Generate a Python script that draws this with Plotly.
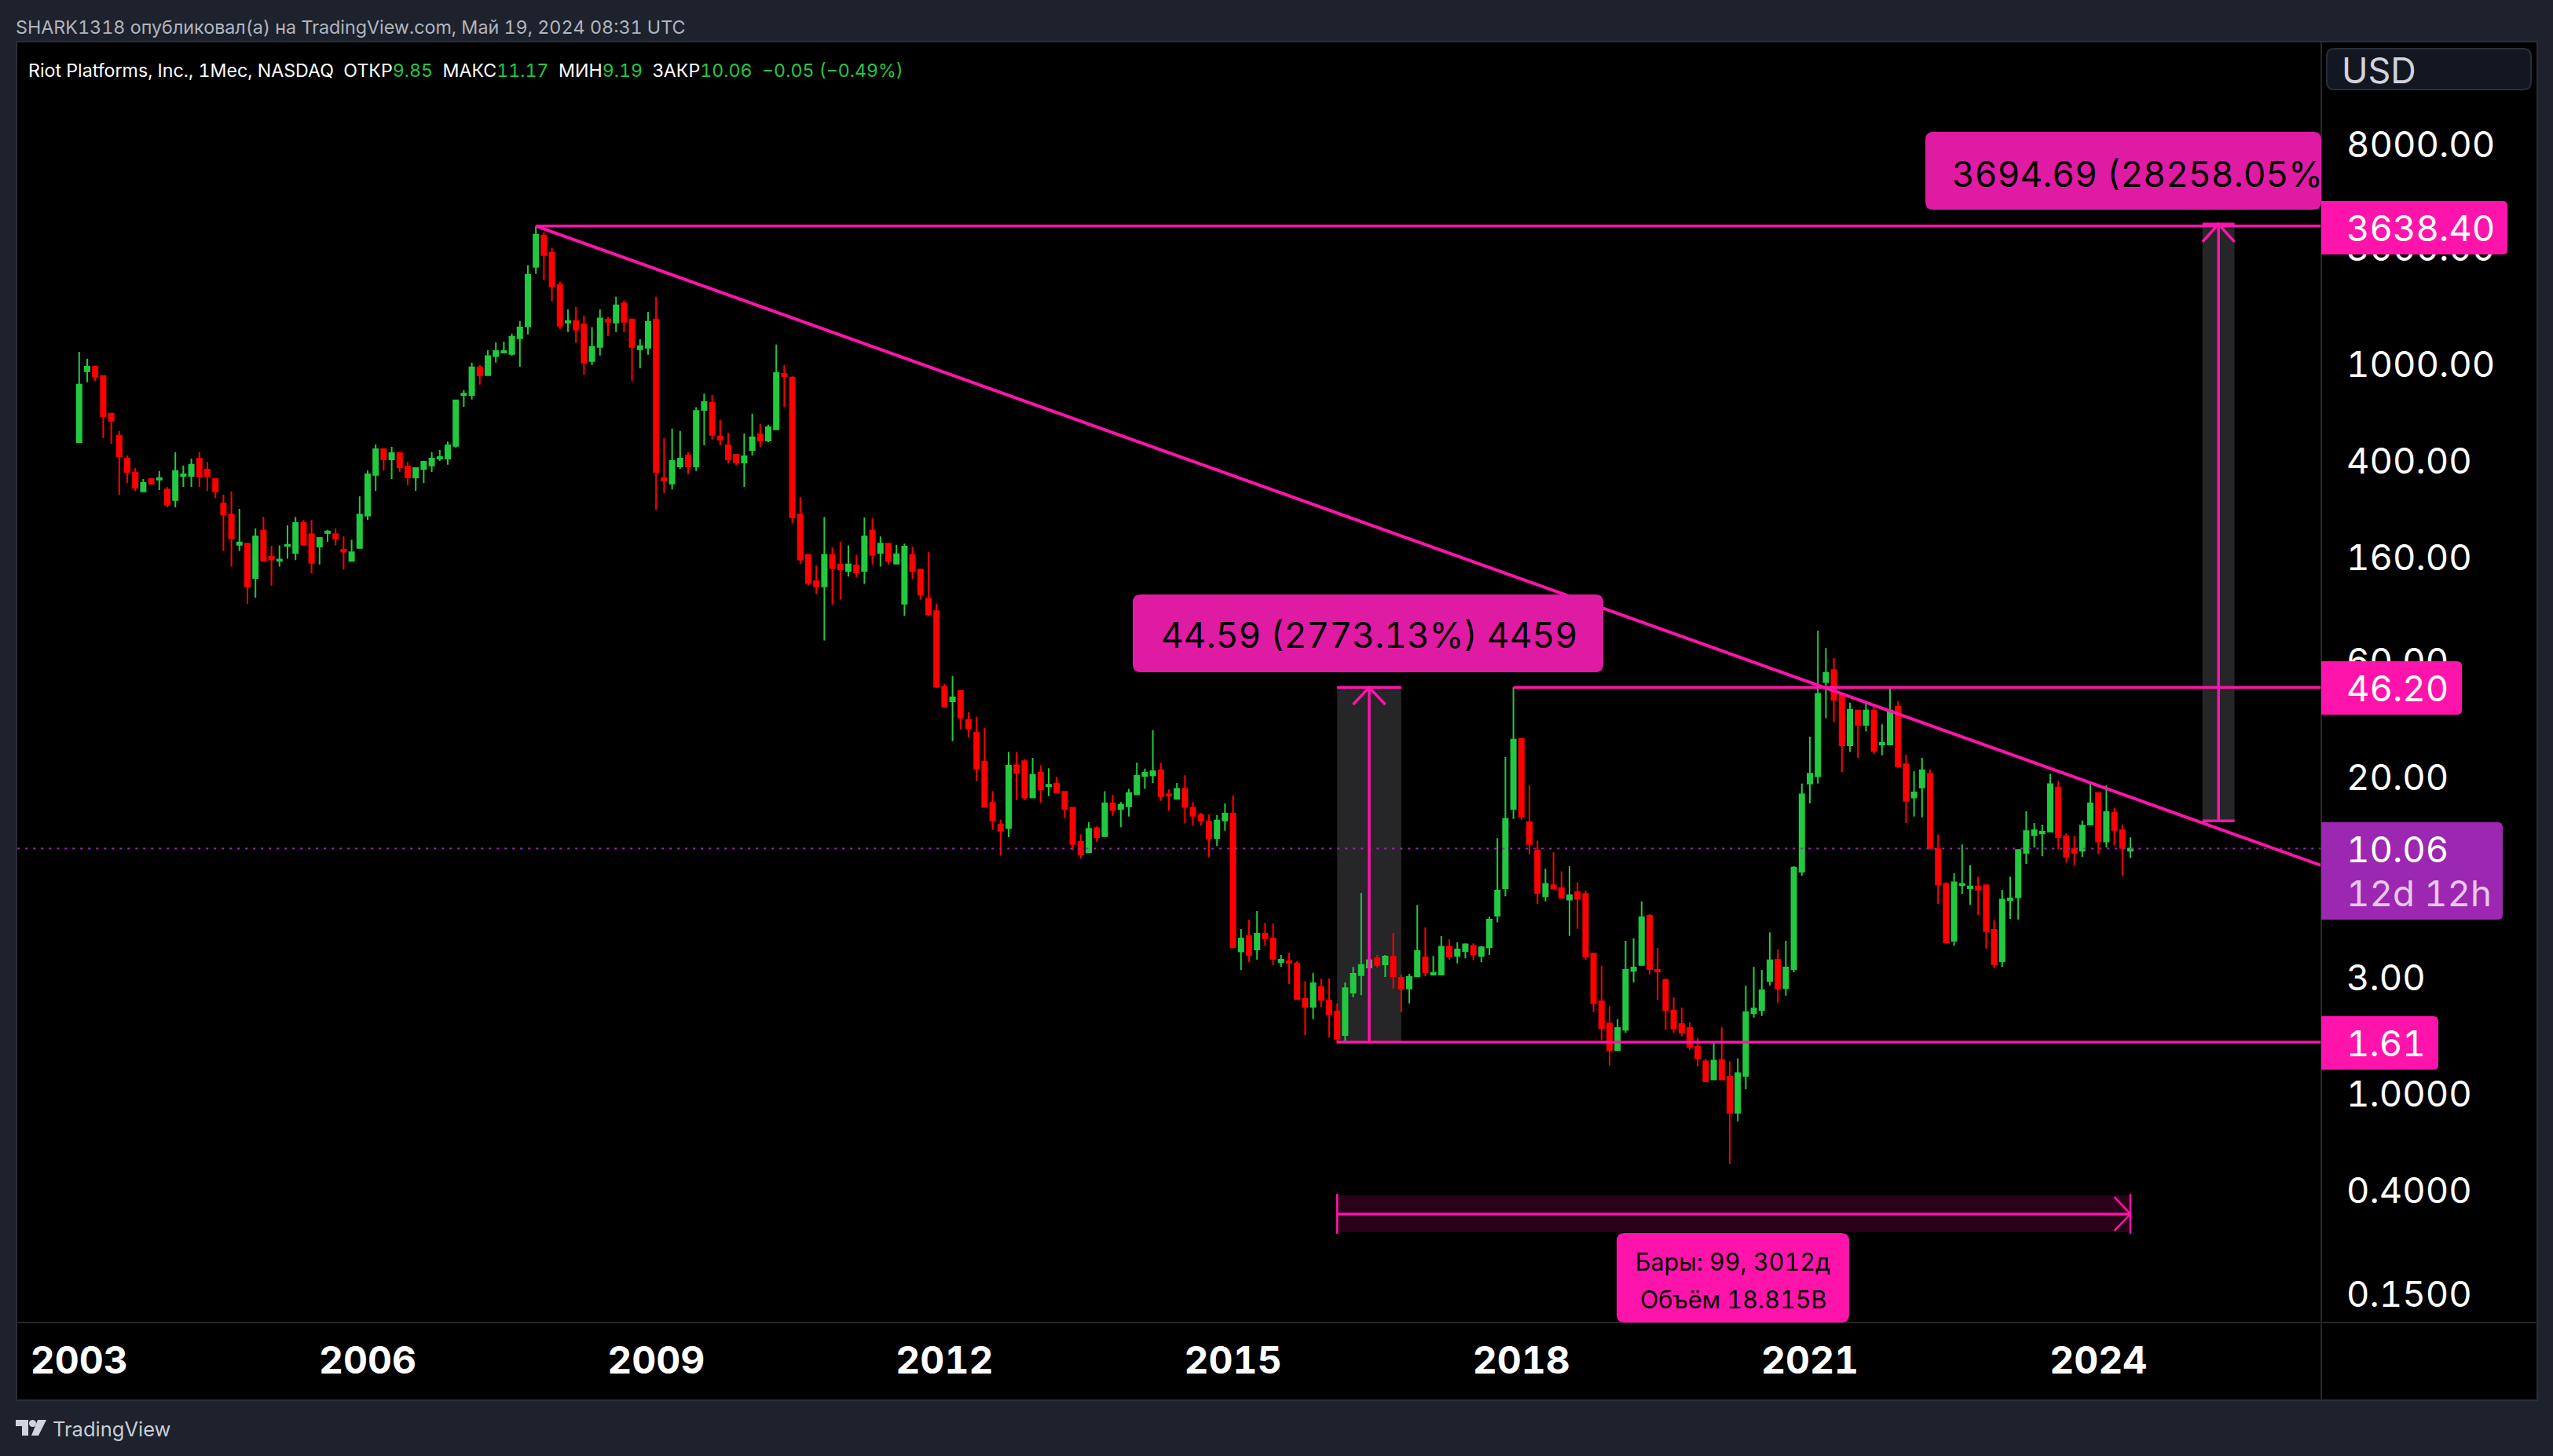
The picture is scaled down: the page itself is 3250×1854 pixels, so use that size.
import plotly.graph_objects as go

# ---------- data (monthly bars, 2003-01 .. 2024-05, USD) ----------
opens = [
471,920,961,880,616,500,403,352,295,332,
330,301,272,342,342,403,363,332,263,237,
178,180,130,204,159,153,176,165,219,197,
175,199,197,170,153,173,235,345,440,400,
424,374,337,365,377,403,403,454,735,735,
955,887,1062,1099,1083,1257,1405,2473,3330,2827,
2085,1459,1480,1436,1013,1158,1503,1459,1750,1503,
1133,1150,1503,
335,318,374,415,374,638,682,497,457,418,
388,437,507,478,531,898,866,237,162,126,
120,162,148,139,146.5,139,204,165,180,149,
102,162,141,107,95,46.5,40.5,44.7,34,30.1,
22.9,15.5,12.6,12.2,22.1,23,16.3,20.6,18.1,18.6,
17.2,14.8,10.7,9.7,12.2,11.3,15.4,14.6,15,16.8,
20,20.1,21.1,16.8,16.1,17.7,14.8,13.8,13,11.1,13.1,
14,3.8,4.39,3.87,4.49,4.29,3.43,3.46,3.39,2.42,
2.25,2.71,2.38,2.15,1.72,2.57,3.03,3.26,3.56,3.36,
3.62,2.96,2.67,3.0,3.59,3.05,3.05,3.97,3.64,3.81,
4.0,3.64,3.95,5.32,6.9,14.63,28.4,12.9,9.85,6.4,
7.1,6.9,6.2,6.65,6.55,3.72,2.37,1.92,1.49,1.81,
3.16,3.34,5.32,3.19,2.9,2.17,1.91,1.84,1.54,1.34,
1.13,1.36,1.16,.824,1.17,2.12,2.18,2.87,3.51,2.68,
3.21,8.08,18.6,19.9,48.6,54.4,43.1,26.7,37.1,32.4,
37.1,26.9,26.9,38.5,22.3,16.3,17.9,20.4,10,7.2,
4.2,7.1,6.9,7.02,7.1,4.66,3.46,6.17,6.33,9.65,
11.4,11.6,11.8,17.9,11.3,10,9.85,12.6,17,10.75,
14.1,11.95,9.85]

highs = [
1106,1036,961,880,616,523,415,368,332,332,
358,308,428,377,403,428,391,332,286,295,
250,180,208,232,176,177,214,232,225,225,
190,205,208,193,187,282,360,460,443,450,
428,391,368,391,428,437,473,699,770,998,
977,1125,1210,1219,1314,1482,2510,3638.4,3430,2960,
2148,1654,1692,1560,1397,1654,1536,1864,1800,1503,
1247,1615,1864,
490,535,523,428,655,745,735,580,515,421,
511,616,559,555,1185,977,879,279,162,146.5,
232,174,183,177,162,231,229,193,180,178,
180,175,141,166,102,47.8,51.5,44.7,36.5,35,
31.5,17.3,13.2,25.1,25.1,23.4,23.7,22.1,21.5,19.8,
17.3,14.8,11.5,12.9,12.4,17.3,16.7,15.6,17.7,22.7,
21.4,30.8,22.6,17.6,18.7,20.1,15.6,14.1,13.9,13.8,15.4,
16.6,4.69,5.13,5.57,4.98,4.94,3.67,3.75,3.46,2.87,
3.1,2.93,2.94,2.32,2.83,3.28,6.6,3.87,3.67,3.67,
4.52,3.05,3.07,5.9,4.76,3.64,4.39,4.26,4.14,4.1,
4.1,4.0,5.28,11.1,23.9,46.2,28.6,18.3,10.8,8.3,
9.7,8.1,8.5,7.3,6.75,3.75,3.31,2.26,2.0,4.2,
4.3,6.1,5.4,3.92,2.94,2.46,2.23,1.94,1.67,1.37,
1.62,1.85,1.34,1.38,2.75,3.28,3.19,4.55,3.87,4.2,
8.5,18.6,29,79,67.2,61,43.7,40,37.4,40.6,
38.5,32.6,46,40.6,24.5,20.9,23.7,21.2,11.5,7.3,
7.95,10.45,8.6,7.7,7.15,5.1,6.8,7.7,10,14.3,
12.8,12.6,20.4,19.1,11.6,11.3,13.1,18.7,17,18.3,
14.8,12.6,11.17]

lows = [
471,830,841,489,464,286,320,297,295,318,
299,254,254,308,308,308,297,277,168,145,
168,102,108,153,121,145,156,154,177,136,
148,183,177,141,153,173,225,297,360,332,
355,313,297,320,355,394,380,447,658,705,
811,887,998,1099,1067,961,1304,2313,2180,1782,
1375,1334,1205,892,977,1067,1285,1334,1334,841,
947,1075,248,
291,301,365,347,358,457,482,457,385,377,
308,415,450,471,527,655,219,149,121,112,
72,101,106,132,131,123,148,145,148,148,
91,129,106,91,46,38.2,27.8,31,28.8,19.1,
14.8,12,9.4,11.2,15.9,15.9,16.3,15.5,16.5,17.1,
13.4,9.9,9.15,9.7,10.7,11.3,13.7,12.3,13.6,16.7,
17.7,18.7,15.8,14.4,16.1,12.8,12.5,12.5,9.3,10.3,11.9,
3.95,3.19,3.43,3.51,4,3.34,3.28,2.79,2.42,1.72,
2,2.25,1.68,1.59,1.6,2.46,2.51,2.98,3.26,2.98,
2.67,2.14,2.32,3,3,3.05,3.05,3.51,3.39,3.56,
3.49,3.43,3.67,5,6.4,13.3,13.2,9.5,5.95,6.1,
6.8,6.25,4.4,4.7,3.51,2.14,1.64,1.29,1.49,1.76,
2.83,3.34,3.05,2.4,1.81,1.76,1.7,1.49,1.28,1.11,
1.13,1.12,.508,.76,1.03,2.03,2.06,2.75,2.33,2.5,
3.12,7.76,15.4,18.6,34.5,33.2,20.7,25.1,23.7,30.5,
24.6,24.3,26.9,21.6,12.8,13.6,13.5,10.1,5.95,4.1,
4,6.55,5.9,5.36,3.9,3.24,3.28,5.17,5.13,8.7,
10.15,9.37,11.8,10,8.8,8.55,9.3,12.6,9.55,10.15,
10.35,7.76,9.19]

closes = [
811,961,873,602,576,412,355,306,320,318,
335,260,358,347,380,340,342,295,237,189,
182,120,193,153,155,155,178,219,178,150,
190,202,189,167,166,237,347,440,400,424,
371,337,368,391,403,409,457,699,745,955,
887,1062,1115,1115,1276,1393,2296,3355,2765,2054,
1417,1480,1364,998,1158,1518,1470,1718,1470,1158,
1167,1470,355,
327,394,403,374,633,687,504,482,400,388,
412,493,478,542,905,879,231,155,124,120,
162,143,141,148,137,193,162,180,153,163,
175,139,111,92,46.5,38.5,42,34.7,31.3,21.4,
14.9,13.1,11.9,22,20.6,16.3,20.2,17.6,18.4,17.1,
14.6,10.5,9.5,12.1,11.2,15.4,14.5,15.2,17,20,
20.6,20.9,16.5,16.6,17.7,14.9,13.7,13.1,11.1,13.1,14,
3.95,4.29,3.67,4.49,4.3,3.54,3.51,3.41,2.42,2.25,
2.81,2.4,2.1,1.66,2.68,3.07,3.34,3.49,3.34,3.62,
3,2.67,2.98,3.81,3.12,3.1,3.97,3.62,3.87,4.06,
3.7,3.95,5.13,6.75,13.3,28.2,13.6,10.5,6.6,7.2,
6.9,6.3,6.46,6.25,3.62,2.33,1.84,1.49,1.84,3.19,
3.26,5.25,3.21,3.14,2.18,1.83,1.76,1.54,1.38,1.11,
1.35,1.13,.824,1.2,2.14,2.21,2.63,3.49,2.67,3.26,
8.4,16.8,20.4,43.5,53,41.1,26.7,37.4,32.4,37.1,
25.3,27.3,37.1,21.9,15.8,17.1,21.1,10.1,7.15,4.14,
7.3,7.2,7.02,6.8,4.6,3.36,6.2,6.27,9.93,11.87,
11.95,11.8,18.5,11.2,9.3,9.65,12.5,15.4,10.75,14.2,
12,10.11,10.06]

year_labels = ["2003", "2006", "2009", "2012", "2015", "2018", "2021", "2024"]
price_ticks = [8000, 3000, 1000, 400, 160, 60, 20, 3, 1, 0.4, 0.15]
price_tick_labels = ["8000.00", "3000.00", "1000.00", "400.00", "160.00", "60.00",
                     "20.00", "3.00", "1.0000", "0.4000", "0.1500"]

# drawings, in bar numbers and prices
last_bar = 256
peak_bar, peak_price = 57, 3638.40
resist_bar, resist_price = 179, 46.20
base_bar, base_price = 157, 1.61
trend_end_bar, trend_end_price = 279.8, 8.57
last_close = 10.06
range1_bars = [157, 165]
range1_prices = [1.61, 46.20]
range1_head_price = 39.3
range2_bars = [265, 269]
range2_prices = [13.07, 3707.76]
range2_head_price = 3132
date_bars = [157, 256]
date_price_mid = 0.316
date_prices_box = [0.2664, 0.3778]
date_prices_tick = [0.2624, 0.3833]
date_head_bar = 254
date_head_prices = [0.372, 0.2703]

# ---------- page geometry ----------
W, H = 3250, 1854
L, R, T, B = 22, 2955, 53, 1684
MAG = "#ff14ab"
BOX = "#e01ba3"
GREEN = "#22c840"
RED = "#ff0000"
FONT = "Inter"
n = len(opens)

def fx(x): return (x - L) / (R - L)
def fy(y): return (B - y) / (B - T)

def rr(x0, y0, x1, y1, r=8, left=True):
    rl = r if left else 0
    P = lambda x, y: f"{fx(x):.6f},{fy(y):.6f}"
    return (f"M{P(x0+rl,y0)} L{P(x1-r,y0)} Q{P(x1,y0)} {P(x1,y0+r)} L{P(x1,y1-r)} Q{P(x1,y1)} {P(x1-r,y1)} "
            f"L{P(x0+rl,y1)} Q{P(x0,y1)} {P(x0,y1-rl)} L{P(x0,y0+rl)} Q{P(x0,y0)} {P(x0+rl,y0)} Z")

def box(x0, y0, x1, y1, fill, r=8, left=True, line=None, layer="above"):
    return dict(type="path", xref="paper", yref="paper", path=rr(x0, y0, x1, y1, r, left),
                fillcolor=fill, line=dict(width=0 if line is None else 2, color=line or fill), layer=layer)

def txt(x, y, text, size, color="#ffffff", anchor="left"):
    return dict(xref="paper", yref="paper", x=fx(x), y=fy(y), text=text, showarrow=False,
                xanchor=anchor, yanchor="middle", align=anchor,
                font=dict(family=FONT, size=size, color=color))

fig = go.Figure()

def seg(xs, ys, width=3.5, color=MAG, dash=None):
    fig.add_trace(go.Scatter(x=xs, y=ys, mode="lines", hoverinfo="skip", showlegend=False, cliponaxis=True,
                             line=dict(color=color, width=width, dash=dash)))

fig.add_trace(go.Candlestick(
    x=list(range(n)), open=opens, high=highs, low=lows, close=closes, showlegend=False,
    whiskerwidth=0,
    increasing=dict(line=dict(color=GREEN, width=2), fillcolor=GREEN),
    decreasing=dict(line=dict(color=RED, width=2), fillcolor=RED)))

seg([-7.7, trend_end_bar], [last_close, last_close], width=2, color="#9c27b0", dash="3px,7px")
seg([peak_bar, trend_end_bar], [peak_price, peak_price], width=3.5)
seg([peak_bar, trend_end_bar], [peak_price, trend_end_price], width=4)
seg([resist_bar, trend_end_bar], [resist_price, resist_price], width=3.5)
seg([base_bar, trend_end_bar], [base_price, base_price], width=3.5)

# price range 1
mid1 = (range1_bars[0] + range1_bars[1]) / 2
seg([mid1, mid1], range1_prices, width=3.5)
seg(range1_bars, [range1_prices[1]] * 2, width=3.5)
seg([mid1 - 2, mid1, mid1 + 2], [range1_head_price, range1_prices[1], range1_head_price], width=3.5)
# price range 2
mid2 = (range2_bars[0] + range2_bars[1]) / 2
seg([mid2, mid2], range2_prices, width=3.5)
seg(range2_bars, [range2_prices[1]] * 2, width=3.5)
seg(range2_bars, [range2_prices[0]] * 2, width=3.5)
seg([mid2 - 2, mid2, mid2 + 2], [range2_head_price, range2_prices[1], range2_head_price], width=3.5)
# date range
seg(date_bars, [date_price_mid] * 2, width=3.5)
seg([date_bars[0]] * 2, date_prices_tick, width=2.5)
seg([date_bars[1]] * 2, date_prices_tick, width=2.5)
seg([date_head_bar, date_bars[1], date_head_bar],
    [date_head_prices[0], date_price_mid, date_head_prices[1]], width=2.5)

shapes = [
    # window panel
    dict(type="rect", xref="paper", yref="paper", x0=fx(21), x1=fx(3230), y0=fy(1783), y1=fy(53),
         fillcolor="#000000", line=dict(color="#2a2e39", width=2), layer="below"),
    # shaded boxes
    dict(type="rect", xref="x", yref="y", x0=range1_bars[0], x1=range1_bars[1],
         y0=range1_prices[0], y1=range1_prices[1], fillcolor="#262628", line_width=0, layer="below"),
    dict(type="rect", xref="x", yref="y", x0=range2_bars[0], x1=range2_bars[1],
         y0=range2_prices[0], y1=range2_prices[1], fillcolor="#262628", line_width=0, layer="below"),
    dict(type="rect", xref="x", yref="y", x0=date_bars[0], x1=date_bars[1],
         y0=date_prices_box[0], y1=date_prices_box[1], fillcolor="#2b0019", line_width=0, layer="below"),
    # separators
    dict(type="line", xref="paper", yref="paper", x0=fx(21), x1=fx(3230), y0=fy(1684), y1=fy(1684),
         line=dict(color="#26262a", width=2), layer="above"),
    dict(type="line", xref="paper", yref="paper", x0=fx(2955), x1=fx(2955), y0=fy(1783), y1=fy(53),
         line=dict(color="#26262a", width=2), layer="above"),
    # labels
    box(2962, 62, 3222, 114, "#131722", r=10, line="#2a2e39"),
    box(2451, 168, 2955, 267, BOX, r=10),
    box(1442, 757, 2041, 856, BOX, r=10),
    box(2955, 256, 3192, 324, MAG, r=6, left=False),
    box(2955, 842, 3134, 910, MAG, r=6, left=False),
    box(2955, 1047, 3186, 1171, "#9c27b0", r=6, left=False),
    box(2955, 1294, 3104, 1362, MAG, r=6, left=False),
    box(2058, 1570, 2354, 1684, MAG, r=10),
    # TradingView logo
    dict(type="path", xref="paper", yref="paper", fillcolor="#d1d4dc", line_width=0, layer="above",
         path=" ".join(["M%.6f,%.6f" % (fx(20), fy(1808))] +
                       ["L%.6f,%.6f" % (fx(a), fy(b)) for a, b in
                        [(36, 1808), (36, 1828), (28, 1828), (28, 1816), (20, 1816)]] + ["Z"])),
    dict(type="circle", xref="paper", yref="paper", x0=fx(37), x1=fx(46), y0=fy(1817), y1=fy(1808),
         fillcolor="#d1d4dc", line_width=0, layer="above"),
    dict(type="path", xref="paper", yref="paper", fillcolor="#d1d4dc", line_width=0, layer="above",
         path=" ".join(["M%.6f,%.6f" % (fx(48), fy(1808))] +
                       ["L%.6f,%.6f" % (fx(a), fy(b)) for a, b in
                        [(59, 1808), (49, 1828), (40, 1828)]] + ["Z"])),
]

g = lambda s: f'<span style="color:{GREEN}">{s}</span>'
legend = ("Riot Platforms, Inc., 1Мес, NASDAQ &nbsp;ОТКР" + g("9.85") + " &nbsp;МАКС" + g("11.17") +
          " &nbsp;МИН" + g("9.19") + " &nbsp;ЗАКР" + g("10.06") + " &nbsp;" + g("−0.05 (−0.49%)"))

annotations = [
    txt(18, 35, "SHARK1318 опубликовал(а) на TradingView.com, Май 19, 2024 08:31 UTC", 23.3, "#b2b5be"),
    txt(34, 90, legend, 23.2),
    txt(2979, 90, "USD", 45, "#d1d4dc"),
    txt(2483, 222, "3694.69 (28258.05%", 44.5, "#000000"),
    txt(1476, 809, "44.59 (2773.13%) 4459", 44.5, "#000000"),
    txt(2985, 291, "3638.40", 45.5),
    txt(2985, 876, "46.20", 45.5),
    txt(2985, 1081, "10.06", 45.5),
    txt(2985, 1137, "12d 12h", 45.5, "#e6c9ec"),
    txt(2985, 1328, "1.61", 45.5),
    txt(2206, 1606, "Бары: 99, 3012д", 30.5, "#000000", "center"),
    txt(2206, 1654, "Объём 18.815B", 30.5, "#000000", "center"),
    txt(65, 1819, "TradingView", 25.5, "#c9ccd6"),
]

fig.update_layout(
    width=W, height=H, autosize=False,
    margin=dict(l=L, r=W - R, t=T, b=H - B, pad=0),
    paper_bgcolor="#1e222d", plot_bgcolor="rgba(0,0,0,0)",
    showlegend=False, boxgap=0.16, boxgroupgap=0.3, dragmode=False, hovermode=False,
    shapes=shapes, annotations=annotations,
    xaxis=dict(type="linear", range=[(L - 100.8) / 10.2, (R - 100.8) / 10.2], showgrid=False, zeroline=False,
               rangeslider=dict(visible=False),
               tickmode="array", tickvals=[(int(y) - 2003) * 12 for y in year_labels],
               ticktext=[f"<b>{y}</b>" for y in year_labels],
               ticks="outside", ticklen=6, tickcolor="rgba(0,0,0,0)",
               tickfont=dict(family=FONT, size=48, color="#ffffff"), showline=False),
    yaxis=dict(type="log", range=[(1391 - B) / 309.8, (1391 - T) / 309.8], side="right", showgrid=False,
               zeroline=False, showline=False, tickmode="array", tickvals=price_ticks,
               ticktext=price_tick_labels, ticks="outside", ticklen=22, tickcolor="rgba(0,0,0,0)",
               ticklabelshift=2,
               tickfont=dict(family=FONT, size=45.5, color="#ffffff")),
)

fig.write_html("out.html", config=dict(displayModeBar=False, staticPlot=True),
               post_script="document.body.style.margin='0';document.body.style.background='#1e222d';"
                           "document.body.style.fontFeatureSettings='\"tnum\"';")
